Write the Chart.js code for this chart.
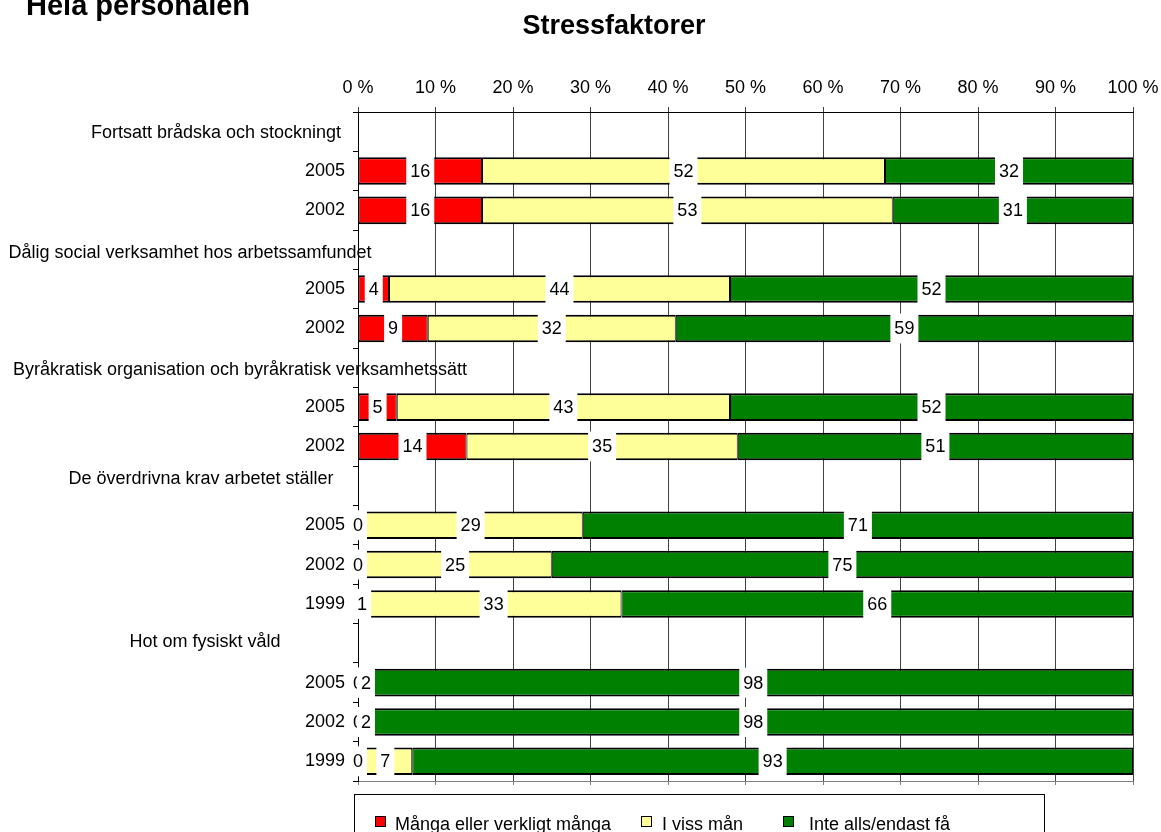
<!DOCTYPE html>
<html>
<head>
<meta charset="utf-8">
<title>Stressfaktorer</title>
<script src="https://cdn.jsdelivr.net/npm/chart.js"></script>
<style>
  body { margin: 0; background: #fff; }
  canvas { display: block; }
</style>
</head>
<body>
<canvas id="myChart" width="1161" height="832"></canvas>
<script>
// rows of the chart, group headings have no bars
const rowLabels = [
    'Fortsatt brådska och stockningt', '2005', '2002',
    'Dålig social verksamhet hos arbetssamfundet', '2005', '2002',
    'Byråkratisk organisation och byråkratisk verksamhetssätt', '2005', '2002',
    'De överdrivna krav arbetet ställer', '2005', '2002', '1999',
    'Hot om fysiskt våld', '2005', '2002', '1999'
];
const headerRows = [0, 3, 6, 9, 13];

const seriesNames = ['Många eller verkligt många', 'I viss mån', 'Inte alls/endast få'];
const manga    = [null, 16, 16, null,  4,  9, null,  5, 14, null,  0,  0,  1, null,  0,  0,  0];
const vissMan  = [null, 52, 53, null, 44, 32, null, 43, 35, null, 29, 25, 33, null,  2,  2,  7];
const inteAlls = [null, 32, 31, null, 52, 59, null, 52, 51, null, 71, 75, 66, null, 98, 98, 93];

const xTicks = [0, 10, 20, 30, 40, 50, 60, 70, 80, 90, 100];

const FONT = '"Liberation Sans", Arial, sans-serif';
Chart.defaults.font.family = FONT;
Chart.defaults.color = '#000';

// heading text boxes sit freely left of the axis (centre x, small y shift)
const headerBoxX = [216, 190, 240, 201, 205];
const headerBoxDy = [1, 3, 2, -7, -1];

// value labels with a white box, drawn series by series
const valueLabels = {
    id: 'valueLabels',
    afterDatasetsDraw(chart) {
        const ctx = chart.ctx;
        ctx.save();
        ctx.font = '18px ' + FONT;
        ctx.textAlign = 'center';
        ctx.textBaseline = 'middle';
        chart.data.datasets.forEach((ds, di) => {
            chart.getDatasetMeta(di).data.forEach((bar, i) => {
                const v = ds.data[i];
                if (v === null || v === undefined) return;
                const cx = (bar.x + bar.base) / 2;
                const text = String(v);
                const w = ctx.measureText(text).width + 8;
                const h = 30;
                ctx.fillStyle = '#fff';
                ctx.fillRect(cx - w / 2, bar.y - h / 2, w, h);
                ctx.fillStyle = '#000';
                ctx.fillText(text, cx, bar.y + 1);
            });
        });
        ctx.restore();
    }
};

// titles, group headings and the boxed legend
const decorations = {
    id: 'decorations',
    afterDraw(chart) {
        const ctx = chart.ctx;
        const yScale = chart.scales.y;
        ctx.save();
        ctx.fillStyle = '#000';

        ctx.font = 'bold 29px ' + FONT;
        ctx.textAlign = 'left';
        ctx.textBaseline = 'alphabetic';
        ctx.fillText('Hela personalen', 26, 15);

        ctx.font = 'bold 27px ' + FONT;
        ctx.textAlign = 'center';
        ctx.fillText('Stressfaktorer', 614, 34);

        ctx.font = '18px ' + FONT;
        ctx.textBaseline = 'middle';
        headerRows.forEach((row, k) => {
            ctx.fillText(rowLabels[row], headerBoxX[k], yScale.getPixelForValue(row) + headerBoxDy[k]);
        });

        // legend
        ctx.strokeStyle = '#000';
        ctx.lineWidth = 1;
        ctx.strokeRect(354.5, 794.5, 690, 60);
        const boxX = [375, 641, 783];
        const textX = [395, 662, 809];
        ctx.textAlign = 'left';
        ctx.textBaseline = 'alphabetic';
        chart.data.datasets.forEach((ds, i) => {
            ctx.fillStyle = ds.backgroundColor;
            ctx.fillRect(boxX[i], 816, 11, 11);
            ctx.strokeRect(boxX[i] + 0.5, 816.5, 10, 10);
            ctx.fillStyle = '#000';
            ctx.fillText(ds.label, textX[i], 830);
        });
        ctx.restore();
    }
};

const barStyle = {
    borderColor: '#000',
    borderWidth: { top: 2, bottom: 2, left: 1, right: 1 },
    borderSkipped: false,
    barPercentage: 0.7,
    categoryPercentage: 1.0
};

const ctx = document.getElementById('myChart').getContext('2d');
const myChart = new Chart(ctx, {
    type: 'bar',
    data: {
        labels: rowLabels,
        datasets: [
            Object.assign({ label: seriesNames[0], data: manga, backgroundColor: '#ff0000' }, barStyle),
            Object.assign({ label: seriesNames[1], data: vissMan, backgroundColor: '#ffff99' }, barStyle),
            Object.assign({ label: seriesNames[2], data: inteAlls, backgroundColor: '#008000' }, barStyle)
        ]
    },
    options: {
        indexAxis: 'y',
        responsive: false,
        animation: false,
        layout: { padding: { left: 0, right: 28, top: 0, bottom: 0 } },
        scales: {
            x: {
                type: 'linear',
                position: 'top',
                stacked: true,
                min: 0,
                max: 100,
                afterBuildTicks: s => { s.ticks = xTicks.map(v => ({ value: v })); },
                ticks: {
                    callback: v => v + ' %',
                    font: { size: 18 },
                    padding: 8,
                    maxRotation: 0
                },
                grid: { color: '#404040', tickLength: 5 },
                border: { color: '#000' },
                afterFit: s => { s.height = 112; s.paddingLeft = 0; s.paddingRight = 0; }
            },
            x2: {
                type: 'linear',
                position: 'bottom',
                min: 0,
                max: 100,
                afterBuildTicks: s => { s.ticks = xTicks.map(v => ({ value: v })); },
                ticks: { display: false },
                grid: { drawOnChartArea: false, tickLength: 4, color: '#808080' },
                border: { color: '#808080' },
                afterFit: s => { s.height = 51; s.paddingLeft = 0; s.paddingRight = 0; }
            },
            y: {
                type: 'category',
                stacked: true,
                ticks: {
                    autoSkip: false,
                    font: { size: 18 },
                    padding: 8,
                    callback: (v, i) => headerRows.includes(i) ? '' : rowLabels[i]
                },
                grid: { offset: true, drawOnChartArea: false, tickLength: 5, color: '#000' },
                border: { color: '#000' },
                afterFit: s => { s.width = 358; s.paddingTop = 0; s.paddingBottom = 0; }
            }
        },
        plugins: {
            legend: { display: false },
            tooltip: { enabled: false }
        }
    },
    plugins: [valueLabels, decorations]
});
</script>
</body>
</html>
